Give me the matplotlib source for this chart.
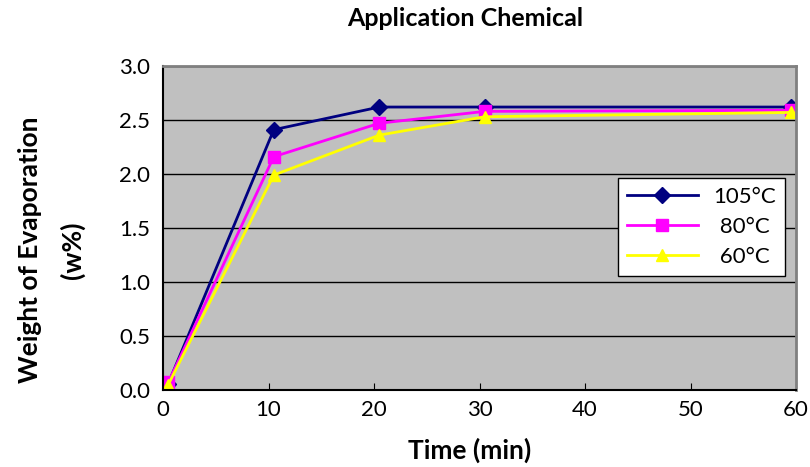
import numpy as np
import matplotlib.pyplot as plt

time_min = [0.5, 10.5, 20.5, 30.5, 59.5]
w_105 = [0.06, 2.41, 2.62, 2.62, 2.62]
w_80 = [0.07, 2.16, 2.47, 2.58, 2.59]
w_60 = [0.05, 1.99, 2.36, 2.53, 2.57]
labels = ['105°C', ' 80°C', ' 60°C']

plt.rcParams['font.family'] = ['Lato', 'DejaVu Sans']

fig = plt.figure(figsize=(8.1, 4.67), dpi=100)
ax = fig.add_axes([163/810, 1 - 390/467, (796-163)/810, (390-66)/467])
ax.set_facecolor('#C0C0C0')

ax.plot(time_min, w_105, color='#000080', marker='D', markersize=8, lw=2, label=labels[0])
ax.plot(time_min, w_80, color='#FF00FF', marker='s', markersize=8, lw=2, label=labels[1])
ax.plot(time_min, w_60, color='#FFFF00', marker='^', markersize=9, lw=2, label=labels[2])

ax.set_xlim(0, 60)
ax.set_ylim(0, 3.0)
ax.set_xticks(np.arange(0, 61, 10))
ax.set_yticks(np.arange(0, 3.01, 0.5))
ax.set_yticklabels(['%.1f' % v for v in np.arange(0, 3.01, 0.5)])
ax.yaxis.grid(True, color='black', lw=1)
ax.set_axisbelow(True)
ax.tick_params(axis='x', direction='in', length=5, labelsize=16, pad=7)
ax.tick_params(axis='y', length=0, labelsize=16, pad=9)
for s in ['top', 'right']:
    ax.spines[s].set_color('#808080')
    ax.spines[s].set_linewidth(2)
for s in ['left', 'bottom']:
    ax.spines[s].set_color('black')
    ax.spines[s].set_linewidth(1.5)

leg = ax.legend(loc='upper left', bbox_to_anchor=((618-163)/(796-163), (390-178)/(390-66)),
                borderaxespad=0, fontsize=16, frameon=True, fancybox=False,
                edgecolor='black', framealpha=1, borderpad=0.4, handlelength=3.2,
                labelspacing=0.45, handletextpad=0.7)
leg.get_frame().set_linewidth(1)

fig.text(465/810, 1 - 18/467, 'Application Chemical', ha='center', va='center',
         fontsize=18, fontweight='bold')
fig.text(470/810, 1 - 450/467, 'Time (min)', ha='center', va='center',
         fontsize=19, fontweight='bold')
fig.text(30/810, 1 - 250/467, 'Weight of Evaporation', ha='center', va='center',
         fontsize=19, fontweight='bold', rotation=90)
fig.text(72/810, 1 - 250/467, '(w%)', ha='center', va='center',
         fontsize=19, fontweight='bold', rotation=90)

fig.savefig('out.png', dpi=100)
